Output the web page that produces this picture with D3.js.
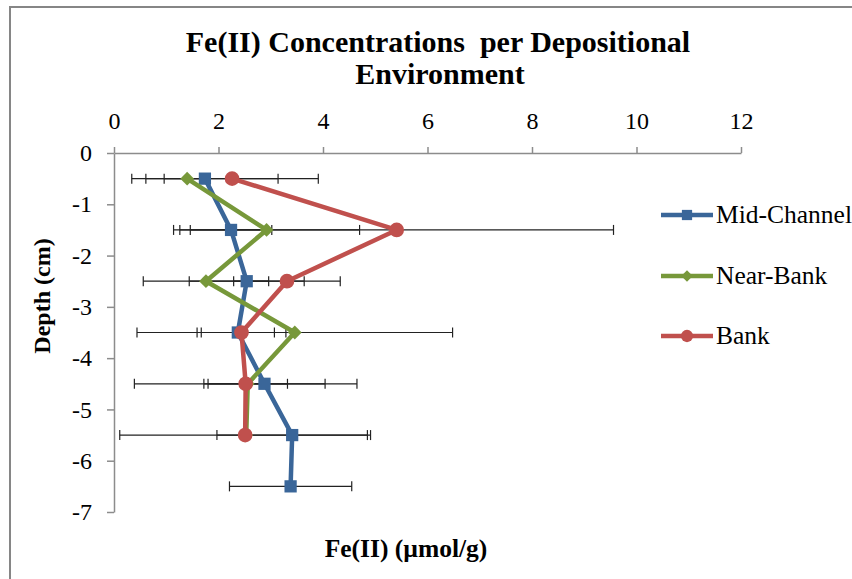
<!DOCTYPE html>
<html>
<head>
<meta charset="utf-8">
<script src="https://cdn.jsdelivr.net/npm/d3@7"></script>
<style>
  html, body { margin: 0; padding: 0; background: #fff; }
  svg { display: block; }
  text { font-family: "Liberation Serif", "Times New Roman", serif; fill: #000; }
</style>
</head>
<body>
<svg id="chart" width="852" height="579"></svg>
<script>
// Sampling depths (cm) and Fe(II) means with error half-widths per environment
const depths = [-0.5, -1.5, -2.5, -3.5, -4.5, -5.5, -6.5];

const midChannel    = [1.74, 2.24, 2.54, 2.37, 2.88, 3.41, 3.38];
const midChannelErr = [1.40, 0.78, 1.10, 0.70, 1.16, 1.44, 1.17];

const nearBank      = [1.40, 2.92, 1.76, 3.46, 2.56, 2.53];
const nearBankErr   = [0.44, 1.78, 1.20, 3.02, 0.76, 0.00];

const bank          = [2.26, 5.41, 3.31, 2.44, 2.52, 2.51];
const bankErr       = [1.65, 4.15, 1.02, 0.85, 2.13, 2.40];

const xTicks = [0, 2, 4, 6, 8, 10, 12];
const yTicks = [0, -1, -2, -3, -4, -5, -6, -7];

const seriesNames = ["Mid-Channel", "Near-Bank", "Bank"];
const seriesColors = ["#3A6699", "#77983A", "#C0504D"];
const seriesValues = [midChannel, nearBank, bank];
const seriesErrors = [midChannelErr, nearBankErr, bankErr];

// Square-ish diamond (a square turned 45 degrees)
const diamondWide = {
  draw(ctx, size) {
    const r = Math.sqrt(size / 2);
    ctx.moveTo(0, -r); ctx.lineTo(r, 0); ctx.lineTo(0, r); ctx.lineTo(-r, 0); ctx.closePath();
  }
};
const seriesShapes = [d3.symbolSquare, diamondWide, d3.symbolCircle];

const svg = d3.select("#chart");
const fmt = d => String(d); // plain hyphen-minus for negatives

// Chart frame
svg.append("path")
  .attr("d", "M10,579 V7 H852")
  .attr("fill", "none")
  .attr("stroke", "#868686")
  .attr("stroke-width", 2);

const x = d3.scaleLinear().domain([0, 12]).range([114, 741]);
const y = d3.scaleLinear().domain([0, -7]).range([153, 512]);

// Title
const title = svg.append("text")
  .attr("text-anchor", "middle")
  .attr("font-weight", "bold")
  .attr("font-size", 30);
title.append("tspan").attr("x", 438).attr("y", 52).attr("xml:space", "preserve").text("Fe(II) Concentrations  per Depositional");
title.append("tspan").attr("x", 440).attr("y", 84).text("Environment");

// Top value axis
const xAxis = svg.append("g")
  .attr("transform", `translate(0,${y(0)})`)
  .call(d3.axisTop(x).tickValues(xTicks).tickSize(6).tickSizeOuter(0).tickPadding(18).tickFormat(fmt));
xAxis.selectAll("text").attr("font-size", 24).attr("font-family", "Liberation Serif");

// Left depth axis
const yAxis = svg.append("g")
  .attr("transform", `translate(${x(0)},0)`)
  .call(d3.axisLeft(y).tickValues(yTicks).tickSize(7).tickSizeOuter(0).tickPadding(15).tickFormat(fmt));
yAxis.selectAll("text").attr("font-size", 24).attr("font-family", "Liberation Serif");

[xAxis, yAxis].forEach(g => {
  g.select(".domain").attr("stroke", "#8c8c8c").attr("stroke-width", 1.5);
  g.selectAll(".tick line").attr("stroke", "#8c8c8c").attr("stroke-width", 1.5);
});

// Axis titles
svg.append("text")
  .attr("transform", "translate(50,296) rotate(-90)")
  .attr("text-anchor", "middle")
  .attr("font-weight", "bold")
  .attr("font-size", 24)
  .text("Depth (cm)");

svg.append("text")
  .attr("x", 406).attr("y", 557)
  .attr("text-anchor", "middle")
  .attr("font-weight", "bold")
  .attr("font-size", 25.5)
  .text("Fe(II) (µmol/g)");

// Horizontal error bars
const capHalf = 5;
const errG = svg.append("g").attr("stroke", "#222").attr("stroke-width", 1.2).attr("fill", "none");
seriesValues.forEach((vals, s) => {
  vals.forEach((v, i) => {
    const e = seriesErrors[s][i];
    const yy = y(depths[i]);
    const x0 = x(v - e), x1 = x(v + e);
    errG.append("line").attr("x1", x0).attr("x2", x1).attr("y1", yy).attr("y2", yy);
    errG.append("line").attr("x1", x0).attr("x2", x0).attr("y1", yy - capHalf).attr("y2", yy + capHalf);
    errG.append("line").attr("x1", x1).attr("x2", x1).attr("y1", yy - capHalf).attr("y2", yy + capHalf);
  });
});

// Series lines and markers
const markerSize = [150, 95, 170];
seriesValues.forEach((vals, s) => {
  const pts = vals.map((v, i) => [x(v), y(depths[i])]);
  svg.append("path")
    .attr("d", d3.line()(pts))
    .attr("fill", "none")
    .attr("stroke", seriesColors[s])
    .attr("stroke-width", 4.5)
    .attr("stroke-linejoin", "round");
  svg.append("g").selectAll("path")
    .data(pts)
    .join("path")
    .attr("transform", d => `translate(${d[0]},${d[1]})`)
    .attr("d", d3.symbol().type(seriesShapes[s]).size(markerSize[s]))
    .attr("fill", seriesColors[s]);
});

// Legend
const legendY = [215, 276, 336];
const legend = svg.append("g");
seriesNames.forEach((name, s) => {
  const ly = legendY[s];
  legend.append("line")
    .attr("x1", 661).attr("x2", 713).attr("y1", ly).attr("y2", ly)
    .attr("stroke", seriesColors[s]).attr("stroke-width", 4.5);
  legend.append("path")
    .attr("transform", `translate(687,${ly})`)
    .attr("d", d3.symbol().type(seriesShapes[s]).size(markerSize[s] * 0.7))
    .attr("fill", seriesColors[s]);
  legend.append("text")
    .attr("x", 716).attr("y", ly + 8)
    .attr("font-size", 25.5)
    .text(name);
});
</script>
</body>
</html>
